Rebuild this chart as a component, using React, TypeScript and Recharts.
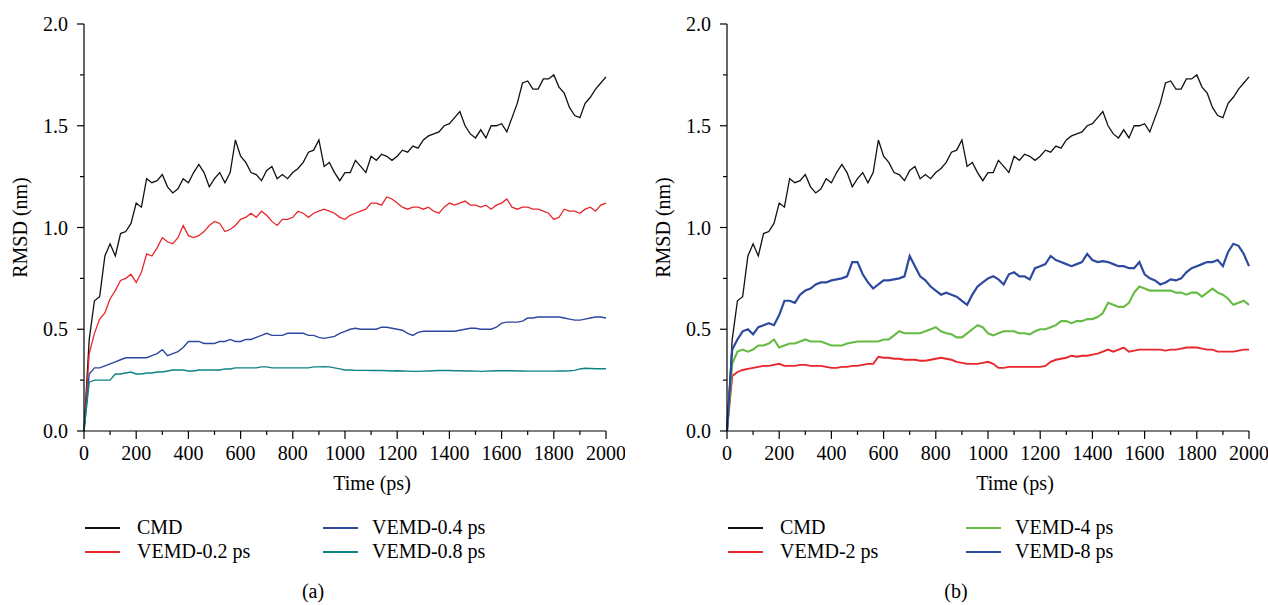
import React from "react";
import { LineChart, Line, XAxis, YAxis } from "recharts";

// time axis (ps)
const time = [
  0, 20, 40, 60, 80, 100, 120, 140, 160, 180, 200, 220, 240, 260, 280, 300, 320, 340, 360, 380,
  400, 420, 440, 460, 480, 500, 520, 540, 560, 580, 600, 620, 640, 660, 680, 700, 720, 740, 760, 780,
  800, 820, 840, 860, 880, 900, 920, 940, 960, 980, 1000, 1020, 1040, 1060, 1080, 1100, 1120, 1140, 1160, 1180,
  1200, 1220, 1240, 1260, 1280, 1300, 1320, 1340, 1360, 1380, 1400, 1420, 1440, 1460, 1480, 1500, 1520, 1540, 1560, 1580,
  1600, 1620, 1640, 1660, 1680, 1700, 1720, 1740, 1760, 1780, 1800, 1820, 1840, 1860, 1880, 1900, 1920, 1940, 1960, 1980,
  2000,
];

const xTicks = [0, 100, 200, 300, 400, 500, 600, 700, 800, 900, 1000, 1100, 1200, 1300, 1400, 1500, 1600, 1700, 1800, 1900, 2000];
const yTicks = [0, 0.25, 0.5, 0.75, 1, 1.25, 1.5, 1.75, 2];

// RMSD (nm)
const cmd = [
  0, 0.45, 0.64, 0.66, 0.86, 0.92, 0.86, 0.97, 0.98, 1.02, 1.12, 1.1, 1.24, 1.22, 1.23, 1.26, 1.2, 1.17, 1.19, 1.24,
  1.22, 1.27, 1.31, 1.27, 1.2, 1.24, 1.27, 1.22, 1.27, 1.43, 1.35, 1.32, 1.27, 1.26, 1.23, 1.28, 1.3, 1.24, 1.26, 1.24,
  1.27, 1.29, 1.32, 1.37, 1.38, 1.43, 1.3, 1.32, 1.27, 1.23, 1.27, 1.27, 1.33, 1.3, 1.27, 1.35, 1.33, 1.36, 1.35, 1.33,
  1.35, 1.38, 1.37, 1.4, 1.39, 1.43, 1.45, 1.46, 1.47, 1.5, 1.51, 1.54, 1.57, 1.5, 1.46, 1.44, 1.48, 1.44, 1.5, 1.5,
  1.51, 1.47, 1.54, 1.61, 1.71, 1.72, 1.68, 1.68, 1.73, 1.73, 1.75, 1.69, 1.66, 1.59, 1.55, 1.54, 1.61, 1.64, 1.68, 1.71,
  1.74,
];

const vemd02 = [
  0, 0.38, 0.48, 0.55, 0.58, 0.65, 0.69, 0.74, 0.75, 0.77, 0.73, 0.78, 0.87, 0.86, 0.9, 0.95, 0.93, 0.92, 0.95, 1.01,
  0.96, 0.95, 0.96, 0.98, 1.01, 1.03, 1.02, 0.98, 0.99, 1.01, 1.04, 1.05, 1.07, 1.05, 1.08, 1.06, 1.03, 1.01, 1.04, 1.04,
  1.05, 1.08, 1.07, 1.05, 1.07, 1.08, 1.09, 1.08, 1.07, 1.05, 1.04, 1.06, 1.07, 1.08, 1.09, 1.12, 1.12, 1.11, 1.15, 1.14,
  1.12, 1.1, 1.09, 1.1, 1.1, 1.09, 1.1, 1.08, 1.07, 1.1, 1.12, 1.11, 1.12, 1.13, 1.11, 1.11, 1.1, 1.11, 1.09, 1.11,
  1.12, 1.14, 1.1, 1.09, 1.1, 1.1, 1.09, 1.09, 1.08, 1.07, 1.04, 1.05, 1.09, 1.08, 1.08, 1.07, 1.09, 1.1, 1.08, 1.11,
  1.12,
];

const vemd04 = [
  0, 0.28, 0.31, 0.31, 0.32, 0.33, 0.34, 0.35, 0.36, 0.36, 0.36, 0.36, 0.36, 0.37, 0.38, 0.4, 0.37, 0.38, 0.39, 0.41,
  0.44, 0.44, 0.44, 0.43, 0.43, 0.43, 0.44, 0.44, 0.45, 0.44, 0.44, 0.45, 0.45, 0.46, 0.47, 0.48, 0.47, 0.47, 0.47, 0.48,
  0.48, 0.48, 0.48, 0.47, 0.47, 0.46, 0.455, 0.46, 0.465, 0.48, 0.49, 0.5, 0.505, 0.5, 0.5, 0.5, 0.5, 0.51, 0.51, 0.505,
  0.5, 0.495, 0.48, 0.47, 0.485, 0.49, 0.49, 0.49, 0.49, 0.49, 0.49, 0.49, 0.495, 0.5, 0.505, 0.505, 0.5, 0.5, 0.5, 0.51,
  0.53, 0.535, 0.535, 0.535, 0.54, 0.555, 0.555, 0.56, 0.56, 0.56, 0.56, 0.56, 0.555, 0.55, 0.545, 0.545, 0.55, 0.555, 0.56, 0.56,
  0.555,
];

const vemd08 = [
  0, 0.24, 0.25, 0.25, 0.25, 0.25, 0.28, 0.28, 0.285, 0.29, 0.28, 0.28, 0.285, 0.285, 0.29, 0.29, 0.295, 0.3, 0.3, 0.3,
  0.295, 0.295, 0.3, 0.3, 0.3, 0.3, 0.3, 0.305, 0.305, 0.31, 0.31, 0.31, 0.31, 0.31, 0.315, 0.315, 0.31, 0.31, 0.31, 0.31,
  0.31, 0.31, 0.31, 0.31, 0.315, 0.315, 0.316, 0.315, 0.31, 0.305, 0.3, 0.3, 0.298, 0.298, 0.298, 0.297, 0.297, 0.297, 0.296, 0.295,
  0.296, 0.295, 0.294, 0.293, 0.293, 0.294, 0.295, 0.296, 0.297, 0.297, 0.297, 0.296, 0.296, 0.295, 0.295, 0.294, 0.293, 0.294, 0.295, 0.296,
  0.296, 0.296, 0.296, 0.295, 0.295, 0.294, 0.294, 0.294, 0.294, 0.294, 0.294, 0.295, 0.295, 0.296, 0.298, 0.305, 0.308, 0.307, 0.306, 0.306,
  0.306,
];

const vemd2 = [
  0, 0.27, 0.29, 0.3, 0.305, 0.31, 0.315, 0.32, 0.32, 0.325, 0.33, 0.32, 0.32, 0.32, 0.325, 0.325, 0.32, 0.32, 0.32, 0.315,
  0.31, 0.31, 0.315, 0.315, 0.32, 0.32, 0.325, 0.33, 0.33, 0.365, 0.36, 0.36, 0.355, 0.355, 0.35, 0.35, 0.35, 0.345, 0.345, 0.35,
  0.355, 0.36, 0.355, 0.35, 0.34, 0.335, 0.33, 0.33, 0.33, 0.335, 0.34, 0.33, 0.31, 0.31, 0.315, 0.315, 0.315, 0.315, 0.315, 0.315,
  0.315, 0.32, 0.34, 0.35, 0.355, 0.36, 0.37, 0.365, 0.37, 0.37, 0.375, 0.38, 0.39, 0.4, 0.39, 0.4, 0.41, 0.39, 0.395, 0.4,
  0.4, 0.4, 0.4, 0.4, 0.395, 0.4, 0.4, 0.405, 0.41, 0.41, 0.41, 0.405, 0.4, 0.4, 0.39, 0.39, 0.39, 0.39, 0.395, 0.4,
  0.4,
];

const vemd4 = [
  0, 0.33, 0.39, 0.4, 0.39, 0.4, 0.42, 0.42, 0.43, 0.45, 0.41, 0.42, 0.43, 0.43, 0.44, 0.45, 0.44, 0.44, 0.44, 0.43,
  0.42, 0.42, 0.42, 0.43, 0.435, 0.44, 0.44, 0.44, 0.44, 0.44, 0.45, 0.45, 0.47, 0.49, 0.48, 0.48, 0.48, 0.48, 0.49, 0.5,
  0.51, 0.49, 0.48, 0.475, 0.46, 0.46, 0.48, 0.5, 0.52, 0.51, 0.48, 0.47, 0.48, 0.49, 0.49, 0.49, 0.48, 0.48, 0.475, 0.49,
  0.5, 0.5, 0.51, 0.52, 0.54, 0.54, 0.53, 0.54, 0.54, 0.55, 0.55, 0.56, 0.58, 0.63, 0.62, 0.61, 0.61, 0.63, 0.68, 0.71,
  0.7, 0.69, 0.69, 0.69, 0.69, 0.69, 0.68, 0.68, 0.67, 0.68, 0.68, 0.66, 0.68, 0.7, 0.68, 0.67, 0.65, 0.62, 0.63, 0.64,
  0.62,
];

const vemd8 = [
  0, 0.4, 0.45, 0.49, 0.5, 0.475, 0.51, 0.52, 0.53, 0.52, 0.57, 0.64, 0.64, 0.63, 0.67, 0.69, 0.7, 0.72, 0.73, 0.73,
  0.74, 0.745, 0.75, 0.76, 0.83, 0.83, 0.77, 0.73, 0.7, 0.72, 0.74, 0.74, 0.745, 0.75, 0.76, 0.86, 0.81, 0.76, 0.74, 0.71,
  0.69, 0.67, 0.68, 0.67, 0.66, 0.64, 0.62, 0.67, 0.71, 0.73, 0.75, 0.76, 0.745, 0.72, 0.77, 0.78, 0.76, 0.76, 0.745, 0.8,
  0.81, 0.82, 0.86, 0.84, 0.83, 0.82, 0.81, 0.82, 0.83, 0.87, 0.84, 0.83, 0.835, 0.83, 0.82, 0.81, 0.81, 0.8, 0.8, 0.83,
  0.77, 0.75, 0.74, 0.72, 0.73, 0.745, 0.74, 0.75, 0.78, 0.8, 0.81, 0.82, 0.83, 0.83, 0.84, 0.81, 0.88, 0.92, 0.91, 0.87,
  0.81,
];

type Series = { key: string; name: string; color: string; width: number; values: number[] };

const panelA: Series[] = [
  { key: "cmd", name: "CMD", color: "#111111", width: 1.3, values: cmd },
  { key: "v02", name: "VEMD-0.2 ps", color: "#e8262b", width: 1.3, values: vemd02 },
  { key: "v04", name: "VEMD-0.4 ps", color: "#2d479f", width: 1.4, values: vemd04 },
  { key: "v08", name: "VEMD-0.8 ps", color: "#0f8282", width: 1.4, values: vemd08 },
];

const panelB: Series[] = [
  { key: "cmd", name: "CMD", color: "#111111", width: 1.3, values: cmd },
  { key: "v2", name: "VEMD-2 ps", color: "#e8262b", width: 1.9, values: vemd2 },
  { key: "v4", name: "VEMD-4 ps", color: "#67bb45", width: 2.1, values: vemd4 },
  { key: "v8", name: "VEMD-8 ps", color: "#2d4a9e", width: 2.2, values: vemd8 },
];

const XTick = (props: any) => {
  const { x, y, payload } = props;
  const v = payload.value;
  const major = v % 200 === 0;
  return (
    <g>
      <line x1={x} x2={x} y1={y} y2={y + (major ? 8 : 4)} stroke="#000" strokeWidth={1.2} />
      {major && (
        <text x={x} y={y + 15} dy="0.71em" textAnchor="middle" fontSize={20} fill="#000">
          {v}
        </text>
      )}
    </g>
  );
};

const YTick = (props: any) => {
  const { x, y, payload } = props;
  const v = payload.value;
  const major = Math.abs(v * 2 - Math.round(v * 2)) < 1e-6;
  return (
    <g>
      <line x1={x - (major ? 7 : 4)} x2={x} y1={y} y2={y} stroke="#000" strokeWidth={1.2} />
      {major && (
        <text x={x - 16} y={y} dy="0.35em" textAnchor="end" fontSize={20} fill="#000">
          {v.toFixed(1)}
        </text>
      )}
    </g>
  );
};

const Panel = ({ left, series, letter }: { left: number; series: Series[]; letter: string }) => {
  const rows = time.map((t, i) => {
    const row: Record<string, number> = { t };
    series.forEach((s) => (row[s.key] = s.values[i]));
    return row;
  });

  return (
    <>
      <div style={{ position: "absolute", left, top: 0 }}>
        <LineChart width={625} height={500} data={rows} margin={{ top: 24, right: 19, left: 0, bottom: 0 }}>
          <XAxis
            dataKey="t"
            type="number"
            domain={[0, 2000]}
            ticks={xTicks}
            interval={0}
            tickSize={0}
            tickMargin={0}
            tickLine={false}
            axisLine={{ stroke: "#000", strokeWidth: 1.2 }}
            height={69}
            tick={<XTick />}
            label={{ value: "Time (ps)", position: "insideBottom", offset: 10, dx: 27, fill: "#000", fontSize: 20 }}
          />
          <YAxis
            type="number"
            domain={[0, 2]}
            ticks={yTicks}
            interval={0}
            width={84}
            tickSize={0}
            tickMargin={0}
            tickLine={false}
            axisLine={{ stroke: "#000", strokeWidth: 1.2 }}
            tick={<YTick />}
            label={{
              value: "RMSD (nm)",
              angle: -90,
              position: "insideLeft",
              offset: 20,
              fill: "#000",
              fontSize: 20,
              style: { textAnchor: "middle" },
            }}
          />
          {series.map((s) => (
            <Line
              key={s.key}
              type="linear"
              dataKey={s.key}
              name={s.name}
              stroke={s.color}
              strokeWidth={s.width}
              dot={false}
              isAnimationActive={false}
            />
          ))}
        </LineChart>
      </div>
      {series.map((s, i) => {
        const col = Math.floor(i / 2);
        const rowY = i % 2 === 0 ? 528 : 552;
        return (
          <React.Fragment key={s.key}>
            <div
              style={{
                position: "absolute",
                left: left + 85 + col * 238,
                top: rowY - 1,
                width: 35,
                height: 0,
                borderTop: `2px solid ${s.color}`,
              }}
            />
            <div
              style={{
                position: "absolute",
                left: left + 137 + col * 235,
                top: rowY - 13,
                lineHeight: "24px",
                fontSize: 20,
                whiteSpace: "nowrap",
              }}
            >
              {s.name}
            </div>
          </React.Fragment>
        );
      })}
      <div
        style={{
          position: "absolute",
          left,
          top: 580,
          width: 626,
          textAlign: "center",
          fontSize: 20,
          lineHeight: "22px",
        }}
      >
        {letter}
      </div>
    </>
  );
};

export default function App() {
  return (
    <div
      style={{
        position: "absolute",
        left: 0,
        top: 0,
        width: 1268,
        height: 605,
        overflow: "hidden",
        background: "#fff",
        color: "#000",
        fontFamily: '"Liberation Serif", "Times New Roman", serif',
      }}
    >
      <Panel left={0} series={panelA} letter="(a)" />
      <Panel left={643} series={panelB} letter="(b)" />
    </div>
  );
}
